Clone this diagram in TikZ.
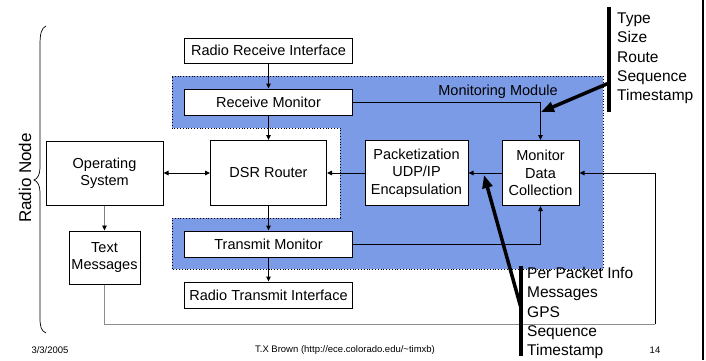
\documentclass[tikz,border=0pt]{standalone}
\usepackage{fontspec}
\setmainfont{Liberation Sans}
\usetikzlibrary{arrows.meta}
\definecolor{modblue}{RGB}{123,155,231}
\begin{document}
\begin{tikzpicture}[x=1pt,y=-1pt,
  box/.style={draw, fill=white, line width=1pt, inner sep=0pt, align=center,
    font=\fontsize{14.5}{17.5}\selectfont},
  arr/.style={-{Triangle[length=5pt,width=4.5pt]}, line width=0.9pt},
  darr/.style={{Triangle[length=5pt,width=4.5pt]}-{Triangle[length=5pt,width=4.5pt]}, line width=0.9pt},
  varr/.style={-{Triangle[length=5pt,width=4.5pt]}, line width=1.6pt},
  garr/.style={-{Triangle[length=5pt,width=4.5pt,color=black]}, line width=0.9pt, draw=black!50},
  gline/.style={line width=0.9pt, draw=black!45},
  bigarr/.style={-{Triangle[length=13pt,width=10pt]}, line width=3.5pt},
  bar/.style={line width=4pt},
  lbl/.style={align=left, inner sep=0pt, font=\fontsize{15.5}{19.25}\selectfont},
  foot/.style={inner sep=0pt, font=\fontsize{9.5}{11}\selectfont}]
\useasboundingbox (0,0) rectangle (706,360);
% monitoring module region
\path[fill=modblue, draw=black, dotted, line width=0.8pt]
  (172,76) -- (603,76) -- (603,269) -- (172,269) -- (172,218) -- (340,218)
  -- (340,128) -- (172,128) -- cycle;
\node[inner sep=0pt, font=\fontsize{14.5}{17}\selectfont] (mmlabel) at (498,92) {Monitoring Module};
% boxes
\node[box, minimum width=168pt, minimum height=25pt] (rri) at (268.5,50.5) {Radio Receive Interface};
\node[box, minimum width=168pt, minimum height=26pt] (rm) at (268.5,102) {Receive Monitor};
\node[box, minimum width=116pt, minimum height=65pt] (dsr) at (268.5,173) {DSR Router};
\node[box, minimum width=117pt, minimum height=64pt] (os) at (104.5,173) {Operating\\System};
\node[box, minimum width=71pt, minimum height=53pt] (txt) at (104.5,257.5) {Text\\Messages};
\node[box, minimum width=168pt, minimum height=26pt] (tmon) at (268.5,244) {Transmit Monitor};
\node[box, minimum width=168pt, minimum height=26pt] (rti) at (268.5,295) {Radio Transmit Interface};
\node[box, minimum width=103pt, minimum height=65pt] (pkt) at (416.5,173) {Packetization\\UDP/IP\\Encapsulation};
\node[box, minimum width=77pt, minimum height=65pt] (mdc) at (540.5,173) {Monitor\\Data\\Collection};
% connectors
\draw[varr] (rri) -- (rm);
\draw[varr] (rm) -- (dsr);
\draw[varr] (dsr) -- (tmon);
\draw[varr] (tmon) -- (rti);
\draw[arr] (rm.east) -| (mdc.north);
\draw[arr] (tmon.east) -| (mdc.south);
\draw[arr] (mdc) -- (pkt);
\draw[arr] (pkt) -- (dsr);
\draw[darr] (os) -- (dsr);
\draw[garr] (os) -- (txt);
\coordinate (loopc) at (655,324);
\draw[gline] (txt.south) |- (loopc);
\draw[arr] (loopc) |- (mdc.east);
% annotation bars and arrows
\coordinate (b1t) at (609,7);
\coordinate (b1b) at (609,112);
\coordinate (b1a) at (609,83);
\coordinate (t1) at (541,112);
\draw[bar] (b1t) -- (b1b);
\draw[bigarr] (b1a) -- (t1);
\node[lbl, anchor=west] (lab1) at (617,58.5) {Type\\Size\\Route\\Sequence\\Timestamp};
\coordinate (b2t) at (521,266);
\coordinate (b2b) at (521,356);
\coordinate (b2a) at (521,308);
\coordinate (t2) at (484,175);
\draw[bar] (b2t) -- (b2b);
\draw[bigarr] (b2a) -- (t2);
\node[lbl, anchor=west] (lab2) at (527,313) {Per Packet Info\\Messages\\GPS\\Sequence\\Timestamp};
% radio node brace
\draw[line width=0.7pt] (46,26) .. controls (41,28) and (40,35) .. (40,45) -- (40,168)
  .. controls (40,175) and (37,179) .. (34,180) .. controls (37,181) and (40,185) .. (40,192)
  -- (40,318) .. controls (40,326) and (41,331) .. (46,333);
\node[rotate=90, inner sep=0pt, font=\fontsize{17}{20}\selectfont] (rn) at (25,178) {Radio Node};
% footer
\node[foot] (date) at (50,350) {3/3/2005};
\node[foot] (auth) at (345,350) {T.X Brown (http://ece.colorado.edu/\textasciitilde timxb)};
\node[foot] (pg) at (655,350) {14};
% right edge line
\coordinate (e1) at (702.5,0);
\coordinate (e2) at (702.5,360);
\draw[line width=2pt] (e1) -- (e2);
\end{tikzpicture}
\end{document}
